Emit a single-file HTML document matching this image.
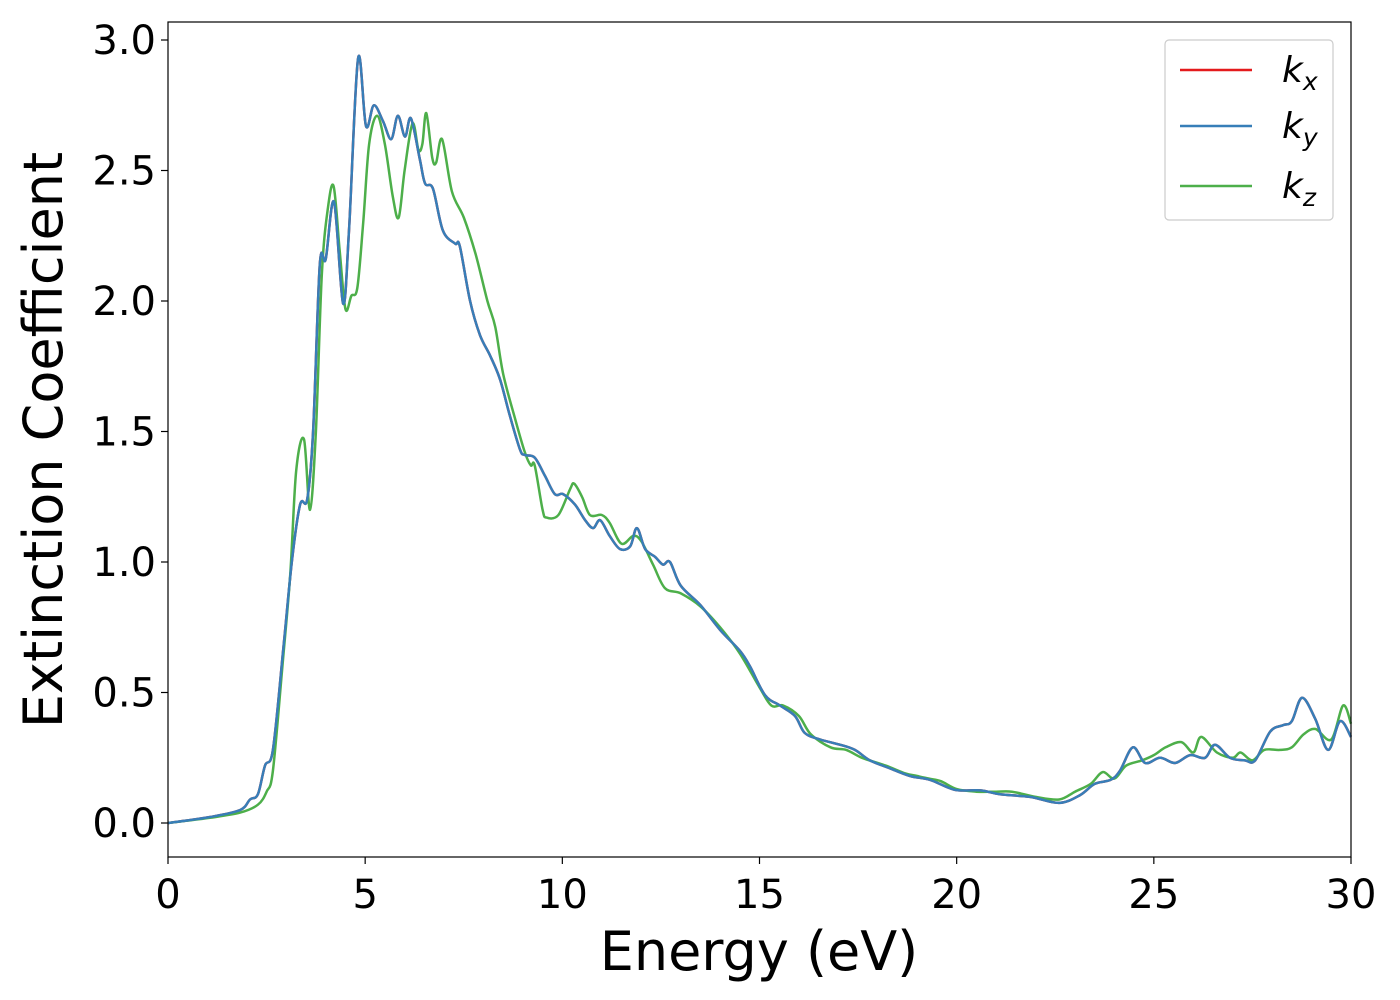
<!DOCTYPE html>
<html><head><meta charset="utf-8"><style>body{margin:0;background:#fff}svg{display:block;font-family:"DejaVu Sans","Liberation Sans",sans-serif}</style></head>
<body>
<svg id="chart" width="1400" height="1000" viewBox="0 0 1400 1000" xmlns="http://www.w3.org/2000/svg">
<rect width="1400" height="1000" fill="#fff"/>
<g id="series"></g>
<rect x="168" y="22" width="1183" height="835" fill="none" stroke="#000" stroke-width="1.2"/>
<g id="xticks"></g>
<g id="yticks"></g>
<text x="759" y="970" font-size="54" text-anchor="middle">Energy (eV)</text>
<text transform="translate(62,440) rotate(-90)" font-size="54" text-anchor="middle">Extinction Coefficient</text>
<g>
<rect x="1165" y="40" width="168" height="180" rx="4" fill="#fff" stroke="#ccc" stroke-width="1.2"/>
<line x1="1180" y1="70" x2="1252" y2="70" stroke="#e41a1c" stroke-width="2.5"/>
<text x="1282" y="82" font-size="36" font-style="italic">k<tspan font-size="25" dy="8">x</tspan></text>
<line x1="1180" y1="126" x2="1252" y2="126" stroke="#377eb8" stroke-width="2.5"/>
<text x="1282" y="138" font-size="36" font-style="italic">k<tspan font-size="25" dy="8">y</tspan></text>
<line x1="1180" y1="186" x2="1252" y2="186" stroke="#4daf4a" stroke-width="2.5"/>
<text x="1282" y="198" font-size="36" font-style="italic">k<tspan font-size="25" dy="8">z</tspan></text>
</g>
</svg>
<script>
const xTicks=[0,5,10,15,20,25,30];
const yTicks=[0,0.5,1,1.5,2,2.5,3];
const yTickLabels=["0.0","0.5","1.0","1.5","2.0","2.5","3.0"];
const energyXY=[0,1.07,1.83,2.08,2.28,2.46,2.66,2.92,3.14,3.35,3.53,3.68,3.85,4.0,4.21,4.44,4.59,4.82,5.02,5.22,5.45,5.66,5.83,6.01,6.16,6.39,6.52,6.72,6.97,7.28,7.4,7.66,7.91,8.17,8.42,8.67,8.93,9.05,9.3,9.56,9.81,10.02,10.32,10.58,10.78,10.96,11.2,11.46,11.72,11.89,12.1,12.35,12.55,12.73,13.0,13.5,14.0,14.5,14.76,15.14,15.52,15.9,16.15,16.54,17.04,17.42,17.8,18.3,18.82,19.33,19.96,20.6,21.1,21.86,22.6,23.13,23.5,23.9,24.14,24.47,24.78,25.16,25.54,25.92,26.3,26.55,26.93,27.31,27.57,27.95,28.28,28.5,28.76,29.09,29.42,29.72,30];
const kxy=[0,0.023,0.05,0.09,0.11,0.22,0.28,0.66,1.0,1.22,1.24,1.5,2.14,2.16,2.38,1.99,2.27,2.93,2.67,2.75,2.69,2.62,2.71,2.63,2.70,2.54,2.45,2.43,2.27,2.22,2.21,2.0,1.87,1.79,1.70,1.56,1.43,1.41,1.40,1.33,1.26,1.26,1.22,1.16,1.13,1.16,1.10,1.05,1.06,1.13,1.05,1.02,0.99,1.00,0.91,0.835,0.74,0.66,0.60,0.49,0.45,0.41,0.345,0.32,0.30,0.28,0.24,0.21,0.18,0.165,0.127,0.125,0.11,0.10,0.077,0.107,0.15,0.165,0.2,0.29,0.23,0.25,0.23,0.26,0.25,0.30,0.25,0.24,0.24,0.35,0.375,0.39,0.48,0.40,0.28,0.39,0.33];
const energyZ=[0,1.07,1.83,2.28,2.5,2.66,2.9,3.1,3.25,3.45,3.6,3.75,3.9,4.05,4.2,4.35,4.5,4.65,4.8,4.95,5.1,5.3,5.5,5.7,5.85,6.0,6.2,6.35,6.45,6.55,6.7,6.8,6.95,7.2,7.5,7.8,8.1,8.3,8.5,8.8,9.05,9.2,9.3,9.5,9.6,9.9,10.2,10.3,10.5,10.7,11.0,11.2,11.5,11.8,12.0,12.3,12.6,13.0,13.5,14.0,14.5,15.0,15.3,15.6,16.0,16.3,16.8,17.2,17.6,18.2,18.7,19.0,19.3,19.6,20.0,20.5,21.0,21.4,22.0,22.6,23.0,23.4,23.7,24.0,24.3,24.7,25.0,25.3,25.7,26.0,26.2,26.6,27.0,27.2,27.5,27.8,28.2,28.5,28.8,29.1,29.5,29.8,30];
const kz=[0,0.02,0.04,0.07,0.12,0.2,0.6,0.95,1.35,1.47,1.2,1.5,2.1,2.35,2.44,2.2,1.97,2.02,2.05,2.3,2.6,2.71,2.6,2.4,2.32,2.5,2.68,2.58,2.6,2.72,2.55,2.53,2.62,2.42,2.32,2.18,2.0,1.9,1.72,1.55,1.42,1.37,1.37,1.2,1.17,1.18,1.28,1.3,1.25,1.18,1.18,1.15,1.07,1.1,1.08,0.99,0.9,0.88,0.83,0.75,0.65,0.52,0.45,0.45,0.41,0.34,0.29,0.28,0.25,0.22,0.19,0.18,0.17,0.16,0.13,0.12,0.12,0.12,0.1,0.09,0.12,0.15,0.195,0.17,0.22,0.24,0.26,0.29,0.31,0.27,0.33,0.27,0.25,0.27,0.24,0.28,0.28,0.29,0.34,0.36,0.32,0.45,0.38];
const X=v=>168+(v/30)*1183;
const Y=v=>823-v*261;
const NS="http://www.w3.org/2000/svg";
function mk(tag,attrs,parent){const e=document.createElementNS(NS,tag);for(const k in attrs)e.setAttribute(k,attrs[k]);parent.appendChild(e);return e;}
function smoothPath(xs,ys){const p=xs.map((x,i)=>[X(x),Y(ys[i])]);let d="M"+p[0][0]+","+p[0][1];
for(let i=0;i<p.length-1;i++){const p0=p[Math.max(0,i-1)],p1=p[i],p2=p[i+1],p3=p[Math.min(p.length-1,i+2)];
const c1=[p1[0]+(p2[0]-p0[0])/6,p1[1]+(p2[1]-p0[1])/6],c2=[p2[0]-(p3[0]-p1[0])/6,p2[1]-(p3[1]-p1[1])/6];
d+=" C"+c1[0].toFixed(1)+","+c1[1].toFixed(1)+" "+c2[0].toFixed(1)+","+c2[1].toFixed(1)+" "+p2[0].toFixed(1)+","+p2[1].toFixed(1);}return d;}
const sg=document.getElementById("series");
const series=[["line-kx",energyXY,kxy,"#e41a1c"],["line-kz",energyZ,kz,"#4daf4a"],["line-ky",energyXY,kxy,"#377eb8"]];
series.forEach(s=>{const e=mk("path",{d:smoothPath(s[1],s[2]),fill:"none",stroke:s[3],"stroke-width":2.5,"stroke-linejoin":"round"},sg);

});
const xg=document.getElementById("xticks");
xTicks.forEach(t=>{const l=mk("line",{x1:X(t),x2:X(t),y1:857,y2:864,stroke:"#000","stroke-width":1.2},xg);


const tx=mk("text",{x:X(t),y:908,"font-size":40,"text-anchor":"middle"},xg);tx.textContent=t;

});
const yg=document.getElementById("yticks");
yTicks.forEach((t,i)=>{const l=mk("line",{x1:161,x2:168,y1:Y(t),y2:Y(t),stroke:"#000","stroke-width":1.2},yg);


const tx=mk("text",{x:156,y:Y(t)+14,"font-size":40,"text-anchor":"end"},yg);tx.textContent=yTickLabels[i];

});
</script>
</body></html>
